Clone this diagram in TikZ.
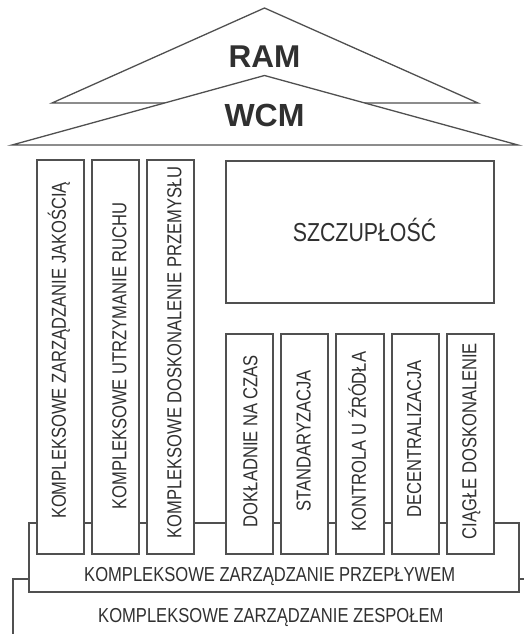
\documentclass[tikz,border=0pt]{standalone}
\usepackage{fontspec}
\setmainfont{Liberation Sans}[FakeStretch=0.82]
\newfontfamily\headfont{Liberation Sans}
\definecolor{linec}{HTML}{505050}
\definecolor{textc}{HTML}{303030}
\begin{document}
\begin{tikzpicture}[x=1pt,y=-1pt,
  ln/.style={draw=linec, line width=1.3pt, line join=miter},
  box/.style={ln, fill=white, inner sep=0pt, outer sep=0pt, anchor=north west},
  lbl/.style={text=textc, font=\fontsize{20.2}{21}\selectfont, inner sep=0pt, text height=14.5pt, text depth=0pt},
  vlbl/.style={lbl, rotate=90},
  head/.style={text=textc, inner sep=0pt, text depth=0pt}]
\clip (0,0) rectangle (524,634);
\useasboundingbox (0,0) rectangle (524,634);
% roofs
\coordinate (ramL) at (52,103);
\coordinate (ramT) at (264.5,8);
\coordinate (ramR) at (478,103);
\draw[ln, fill=white] (ramL) -- (ramT) -- (ramR) -- cycle;
\coordinate (wcmL) at (12,145);
\coordinate (wcmT) at (264.5,75.5);
\coordinate (wcmR) at (518,145);
\draw[ln, fill=white] (wcmL) -- (wcmT) -- (wcmR) -- cycle;
\node[head, font=\headfont\bfseries\fontsize{31.5}{32}\selectfont, text height=22.5pt] (ram) at (264.5,55.8) {RAM};
\node[head, font=\headfont\bfseries\fontsize{32}{32}\selectfont, text height=23pt] (wcm) at (264.5,115) {WCM};
% foundations
\coordinate (teamA) at (13,640);
\coordinate (teamB) at (13,579);
\coordinate (teamC) at (530,579);
\draw[ln] (teamA) -- (teamB) -- (teamC);
\node[box, minimum width=490pt, minimum height=69pt] (flow) at (29,523) {};
\node[lbl] (teamlbl) at (270.8,615.7) {KOMPLEKSOWE ZARZĄDZANIE ZESPOŁEM};
\node[lbl] (flowlbl) at (269.7,574.7) {KOMPLEKSOWE ZARZĄDZANIE PRZEPŁYWEM};
% tall pillars
\node[box, minimum width=47pt, minimum height=394pt] (c1) at (37,160) {};
\node[box, minimum width=47pt, minimum height=394pt] (c2) at (92,160) {};
\node[box, minimum width=47pt, minimum height=394pt] (c3) at (147,160) {};
\node[vlbl] at (58.5,350.5) {KOMPLEKSOWE ZARZĄDZANIE JAKOŚCIĄ};
\node[vlbl] at (119,356) {KOMPLEKSOWE UTRZYMANIE RUCHU};
\node[vlbl] at (174,352.5) {KOMPLEKSOWE DOSKONALENIE PRZEMYSŁU};
% lean box
\node[box, minimum width=268pt, minimum height=142pt] (lean) at (226,161) {};
\node[lbl, font=\fontsize{26}{27}\selectfont, text height=18.7pt] (leanlbl) at (364.5,232.2) {SZCZUPŁOŚĆ};
% short pillars
\node[box, minimum width=47pt, minimum height=220pt] (b1) at (226,334) {};
\node[box, minimum width=47pt, minimum height=220pt] (b2) at (281,334) {};
\node[box, minimum width=48pt, minimum height=220pt] (b3) at (336,334) {};
\node[box, minimum width=47pt, minimum height=220pt] (b4) at (392,334) {};
\node[box, minimum width=47pt, minimum height=220pt] (b5) at (447,334) {};
\node[vlbl] at (250,441) {DOKŁADNIE NA CZAS};
\node[vlbl] at (303.3,441) {STANDARYZACJA};
\node[vlbl] at (358.7,441.5) {KONTROLA U ŹRÓDŁA};
\node[vlbl] at (413.8,439) {DECENTRALIZACJA};
\node[vlbl] at (469,441) {CIĄGŁE DOSKONALENIE};
\end{tikzpicture}
\end{document}
